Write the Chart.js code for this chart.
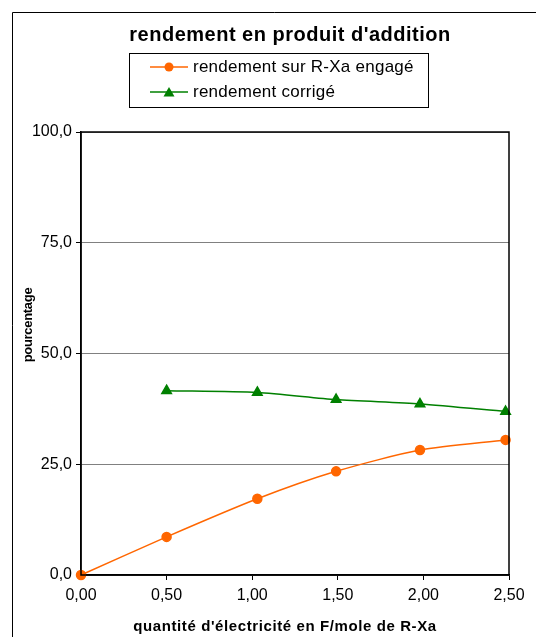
<!DOCTYPE html>
<html>
<head>
<meta charset="utf-8">
<script src="https://cdn.jsdelivr.net/npm/chart.js@4/dist/chart.umd.min.js"></script>
<style>
  html, body { margin: 0; padding: 0; background: #fff; }
  #wrap { width: 536px; height: 637px; position: relative; }
</style>
</head>
<body>
<div id="wrap"><canvas id="c" width="536" height="637"></canvas></div>
<script>
// Quantité d'électricité (F/mole de R-Xa) and yields (%)
const xEngage = [0, 0.50, 1.03, 1.49, 1.98, 2.48];
const rendementEngage = [0, 8.6, 17.2, 23.4, 28.2, 30.5];
const xCorrige = [0.50, 1.03, 1.49, 1.98, 2.48];
const rendementCorrige = [41.6, 41.2, 39.6, 38.6, 36.9];

const yTicks = [0, 25, 50, 75, 100];
const xTicks = [0, 0.5, 1, 1.5, 2, 2.5];

const titre = "rendement en produit d'addition";
const titreX = "quantité d'électricité en F/mole de R-Xa";
const titreY = "pourcentage";
const nomEngage = "rendement sur R-Xa engagé";
const nomCorrige = "rendement corrigé";

const ORANGE = '#FF6600';
const GREEN = '#008000';
const FONT = 'Arial, "Liberation Sans", sans-serif';

const pts = (xs, ys) => xs.map((x, i) => ({ x: x, y: ys[i] }));
const fr = (v, d) => v.toFixed(d).replace('.', ',');

// Frame, plot border, title, legend and axis titles
const decor = {
  id: 'decor',
  beforeDraw(chart) {
    const ctx = chart.ctx;
    ctx.save();
    ctx.fillStyle = '#fff';
    ctx.fillRect(0, 0, chart.width, chart.height);
    ctx.strokeStyle = '#000';
    ctx.lineWidth = 1;
    ctx.beginPath();
    ctx.moveTo(12.5, chart.height + 2);
    ctx.lineTo(12.5, 12.5);
    ctx.lineTo(chart.width + 2, 12.5);
    ctx.stroke();
    ctx.restore();
  },
  afterDatasetsDraw(chart) {
    const ctx = chart.ctx;
    const a = chart.chartArea;
    ctx.save();
    ctx.strokeStyle = '#000';
    ctx.lineWidth = 1.5;
    ctx.strokeRect(a.left, a.top, a.right - a.left, a.bottom - a.top);
    ctx.restore();
  },
  afterDraw(chart) {
    const ctx = chart.ctx;
    ctx.save();
    ctx.fillStyle = '#000';
    ctx.textAlign = 'center';
    ctx.textBaseline = 'middle';
    ctx.font = 'bold 20px ' + FONT;
    ctx.letterSpacing = '0.5px';
    ctx.fillText(titre, 290, 35);

    // legend box
    ctx.letterSpacing = '0px';
    ctx.strokeStyle = '#000';
    ctx.lineWidth = 1;
    ctx.strokeRect(129.5, 53.5, 299, 54);
    const items = [
      { label: nomEngage, color: ORANGE, shape: 'circle', y: 67 },
      { label: nomCorrige, color: GREEN, shape: 'triangle', y: 92 }
    ];
    ctx.font = '17px ' + FONT;
    ctx.textAlign = 'left';
    items.forEach(it => {
      ctx.letterSpacing = '0px';
      ctx.strokeStyle = it.color;
      ctx.lineWidth = 1.5;
      ctx.beginPath();
      ctx.moveTo(150, it.y);
      ctx.lineTo(188, it.y);
      ctx.stroke();
      ctx.fillStyle = it.color;
      ctx.beginPath();
      if (it.shape === 'circle') {
        ctx.arc(169, it.y, 4.5, 0, Math.PI * 2);
      } else {
        ctx.moveTo(169, it.y - 5);
        ctx.lineTo(174.5, it.y + 4.5);
        ctx.lineTo(163.5, it.y + 4.5);
        ctx.closePath();
      }
      ctx.fill();
      ctx.fillStyle = '#000';
      ctx.letterSpacing = '0.25px';
      ctx.fillText(it.label, 193, it.y);
    });

    // axis titles
    ctx.font = 'bold 15px ' + FONT;
    ctx.letterSpacing = '0.6px';
    ctx.textAlign = 'center';
    ctx.fillText(titreX, 285, 627);
    ctx.font = 'bold 13px ' + FONT;
    ctx.letterSpacing = '-0.3px';
    ctx.translate(28, 325);
    ctx.rotate(-Math.PI / 2);
    ctx.fillText(titreY, 0, 0);
    ctx.restore();
  }
};

new Chart(document.getElementById('c'), {
  type: 'line',
  data: {
    datasets: [
      {
        label: nomEngage,
        data: pts(xEngage, rendementEngage),
        borderColor: ORANGE,
        backgroundColor: ORANGE,
        borderWidth: 1.5,
        pointStyle: 'circle',
        pointRadius: 4.5,
        pointHoverRadius: 4.5,
        tension: 0.25,
        clip: false
      },
      {
        label: nomCorrige,
        data: pts(xCorrige, rendementCorrige),
        borderColor: GREEN,
        backgroundColor: GREEN,
        borderWidth: 1.5,
        pointStyle: 'triangle',
        pointRadius: 5.5,
        pointHoverRadius: 5.5,
        tension: 0.25,
        clip: false
      }
    ]
  },
  options: {
    responsive: false,
    animation: false,
    events: [],
    layout: { padding: { top: 132, right: 27, left: 0, bottom: 0 } },
    plugins: {
      legend: { display: false },
      title: { display: false },
      tooltip: { enabled: false }
    },
    scales: {
      x: {
        type: 'linear',
        min: 0,
        max: 2.5,
        afterFit(s) { s.height = 62; },
        afterBuildTicks(s) { s.ticks = xTicks.map(v => ({ value: v })); },
        ticks: {
          color: '#000',
          font: { family: FONT, size: 16 },
          padding: 6,
          maxRotation: 0,
          callback: v => fr(v, 2)
        },
        grid: {
          display: true,
          drawOnChartArea: false,
          drawTicks: true,
          tickLength: 5,
          color: '#000'
        },
        border: { display: true, color: '#000', width: 1.5 }
      },
      y: {
        min: 0,
        max: 100,
        afterFit(s) { s.width = 81; },
        afterBuildTicks(s) { s.ticks = yTicks.map(v => ({ value: v })); },
        ticks: {
          color: '#000',
          font: { family: FONT, size: 16 },
          padding: 4,
          callback: v => fr(v, 1)
        },
        grid: {
          color: '#808080',
          lineWidth: 1,
          tickLength: 5,
          tickColor: '#000'
        },
        border: { display: true, color: '#000', width: 1.5 }
      }
    }
  },
  plugins: [decor]
});
</script>
</body>
</html>
